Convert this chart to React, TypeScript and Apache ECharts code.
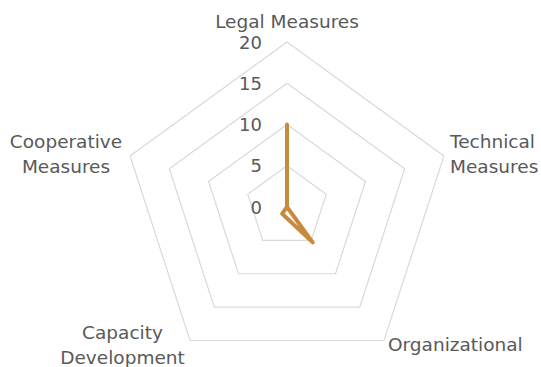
import React, { useEffect, useRef } from "react";
import * as echarts from "echarts";

const categories = [
  "Legal Measures",
  "Technical Measures",
  "Organizational",
  "Capacity Development",
  "Cooperative Measures",
];
const seriesValues = [10, 0, 5.3, 1, 0];
const axisMin = 0;
const axisMax = 20;
const tickStep = 5;

const FONT = "DejaVu Sans";
const TEXT = "#595959";
const LINE = "#C98A3E";

export default function App() {
  const ref = useRef<HTMLDivElement>(null);
  useEffect(() => {
    document.body.style.margin = "0";
    const chart = echarts.init(ref.current!, undefined, { renderer: "svg" });
    const cx = 287;
    const cy = 207;
    const r = 165;
    // ECharts lays radar axes out counter-clockwise; the reference runs clockwise
    const order = categories.map((_, i) => (i === 0 ? 0 : categories.length - i));
    const nameStyle = { fill: TEXT, font: `18.5px "${FONT}"`, lineHeight: 25 };
    const namePos: [number, number, string][] = [
      [cx, 21, "center"],
      [450, 153.5, "left"],
      [388, 344, "left"],
      [122.5, 344.5, "center"],
      [66, 153.5, "center"],
    ];
    const wrap = (s: string) => {
      const parts = s.split(" ");
      if (parts.length === 2 && s !== "Legal Measures") return parts.join("\n");
      return s;
    };
    chart.setOption({
      animation: false,
      radar: {
        center: [cx, cy],
        radius: r,
        startAngle: 90,
        splitNumber: (axisMax - axisMin) / tickStep,
        shape: "polygon",
        axisName: { show: false },
        indicator: order.map((k, i) => ({
          name: categories[k],
          min: axisMin,
          max: axisMax,
          axisLabel:
            i === 0
              ? {
                  show: true,
                  color: TEXT,
                  fontSize: 18,
                  fontFamily: FONT,
                  margin: 25,
                  showMinLabel: true,
                  showMaxLabel: true,
                }
              : { show: false },
        })),
        axisLine: { show: false },
        axisTick: { show: false },
        splitArea: { show: false },
        splitLine: { lineStyle: { color: "#D9D9D9", width: 1.2 } },
      },
      graphic: categories.map((c, i) => ({
        type: "text",
        x: namePos[i][0],
        y: namePos[i][1],
        style: {
          ...nameStyle,
          text: wrap(c),
          textAlign: namePos[i][2],
          textVerticalAlign: "middle",
        },
      })),
      series: [
        {
          type: "radar",
          symbol: "none",
          lineStyle: { color: LINE, width: 4, join: "round", cap: "round" },
          data: [{ value: order.map((k) => seriesValues[k]), name: "Score" }],
        },
      ],
    });
    return () => chart.dispose();
  }, []);
  return <div ref={ref} style={{ width: 541, height: 367 }} />;
}
